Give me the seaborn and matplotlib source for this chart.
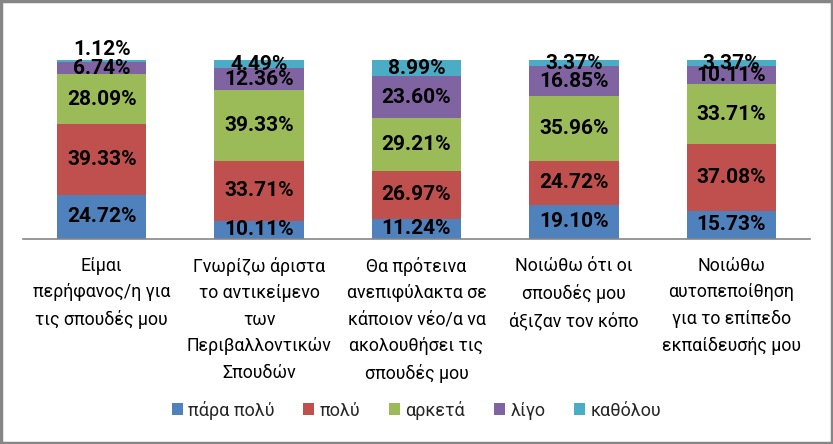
import matplotlib
matplotlib.use("Agg")
import matplotlib.pyplot as plt
import seaborn as sns
import pandas as pd
import numpy as np
from matplotlib.patches import Rectangle

categories = [
    "Είμαι\nπερήφανος/η για\nτις σπουδές μου",
    "Γνωρίζω άριστα\nτο αντικείμενο\nτων\nΠεριβαλλοντικών\nΣπουδών",
    "Θα πρότεινα\nανεπιφύλακτα σε\nκάποιον νέο/α να\nακολουθήσει τις\nσπουδές μου",
    "Νοιώθω ότι οι\nσπουδές μου\nάξιζαν τον κόπο",
    "Νοιώθω\nαυτοπεποίθηση\nγια το επίπεδο\nεκπαίδευσής μου",
]
series_names = ["πάρα πολύ", "πολύ", "αρκετά", "λίγο", "καθόλου"]
para_poly = [24.72, 10.11, 11.24, 19.10, 15.73]
poly = [39.33, 33.71, 26.97, 24.72, 37.08]
arketa = [28.09, 39.33, 29.21, 35.96, 33.71]
ligo = [6.74, 12.36, 23.60, 16.85, 10.11]
katholou = [1.12, 4.49, 8.99, 3.37, 3.37]
colors = ["#4F81BD", "#C0504D", "#9BBB59", "#8064A2", "#4BACC6"]

series_values = [para_poly, poly, arketa, ligo, katholou]

sns.set_style("white")
plt.rcParams["font.family"] = ["Roboto", "DejaVu Sans"]

fig = plt.figure(figsize=(8.33, 4.44), dpi=100)
ax = fig.add_axes([23 / 833, 1 - 239 / 444, 787 / 833, 179 / 444])

bottom = np.zeros(len(categories))
for name, vals, col in zip(series_names, series_values, colors):
    df = pd.DataFrame({"cat": categories, "val": vals})
    sns.barplot(data=df, x="cat", y="val", order=categories, color=col,
                saturation=1, width=0.567, bottom=bottom.copy(), label=name,
                ax=ax, linewidth=0, edgecolor=col, legend=False)
    cont = ax.containers[-1]
    center_labels = [f"{v:.2f}%" if v >= 2 else "" for v in vals]
    edge_labels = [f"{v:.2f}%" if v < 2 else "" for v in vals]
    ax.bar_label(cont, labels=center_labels, label_type="center",
                 fontsize=15, fontweight="bold", color="black")
    if any(edge_labels):
        ax.bar_label(cont, labels=edge_labels, label_type="edge", padding=1,
                     fontsize=15, fontweight="bold", color="black")
    bottom += np.array(vals)

if ax.get_legend() is not None:
    ax.get_legend().remove()

ax.set_ylim(0, 100)
ax.set_xlim(-0.5, len(categories) - 0.5)
ax.set_xlabel("")
ax.set_ylabel("")
ax.set_yticks([])
for s in ["top", "left", "right"]:
    ax.spines[s].set_visible(False)
ax.spines["bottom"].set_color("#868686")
ax.spines["bottom"].set_linewidth(1.2)
ax.tick_params(axis="x", length=0, pad=13, labelsize=12.8, colors="black")
for lbl in ax.get_xticklabels():
    lbl.set_linespacing(1.6)
    lbl.set_verticalalignment("top")

handles, labels = ax.get_legend_handles_labels()
leg = fig.legend(handles, labels, loc="center", bbox_to_anchor=(0.5, 1 - 410 / 444),
                 ncol=5, frameon=False, fontsize=13, handlelength=0.6,
                 handleheight=0.6, handletextpad=0.3, columnspacing=1.6)

fig.patches.append(Rectangle((0.0015, 0.003), 0.997, 0.994, transform=fig.transFigure,
                             fill=False, edgecolor="#868686", linewidth=2.5))

fig.savefig("out.png", dpi=100)
